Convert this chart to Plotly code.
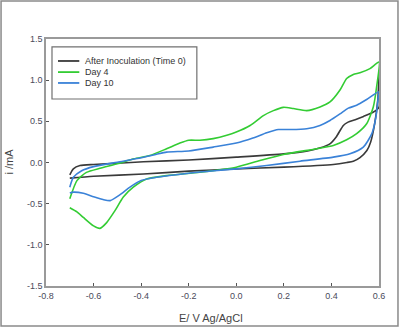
import plotly.graph_objects as go

# ---- data (E in V vs Ag/AgCl, i in mA) ----
black_E = [-0.70, -0.685, -0.657, -0.60, -0.50, -0.39, -0.20, 0.00, 0.20, 0.30, 0.35, 0.395, 0.42, 0.45, 0.47, 0.50, 0.535, 0.575, 0.60,
           0.60, 0.595, 0.582, 0.565, 0.549, 0.52, 0.492, 0.465, 0.408, 0.20, 0.00, -0.20, -0.39, -0.60, -0.70]
black_I = [-0.15, -0.077, -0.037, -0.024, -0.010, 0.010, 0.030, 0.065, 0.105, 0.14, 0.175, 0.23, 0.31, 0.45, 0.49, 0.52, 0.56, 0.61, 0.67,
           1.05, 0.76, 0.476, 0.25, 0.146, 0.06, 0.016, 0.0, -0.024, -0.056, -0.077, -0.105, -0.14, -0.167, -0.19]

green_E = [-0.70, -0.67, -0.63, -0.573, -0.50, -0.43, -0.363, -0.293, -0.237, -0.20, -0.153, -0.097, -0.04, 0.00, 0.058, 0.114, 0.156, 0.198,
           0.24, 0.296, 0.352, 0.394, 0.436, 0.464, 0.492, 0.52, 0.562, 0.60,
           0.59, 0.576, 0.548, 0.506, 0.464, 0.408, 0.338, 0.198, 0.10, 0.00, -0.153, -0.293, -0.377, -0.433, -0.475, -0.51, -0.545,
           -0.573, -0.60, -0.643, -0.67, -0.70]
green_I = [-0.44, -0.22, -0.12, -0.07, -0.016, 0.045, 0.085, 0.167, 0.236, 0.27, 0.27, 0.29, 0.33, 0.37, 0.45, 0.57, 0.63, 0.67,
           0.655, 0.63, 0.675, 0.735, 0.88, 1.02, 1.07, 1.09, 1.14, 1.22,
           0.92, 0.675, 0.47, 0.35, 0.276, 0.207, 0.167, 0.098, 0.024, -0.057, -0.118, -0.159, -0.20, -0.30, -0.42, -0.585, -0.73,
           -0.80, -0.77, -0.667, -0.60, -0.55]

blue_E = [-0.70, -0.685, -0.65, -0.60, -0.50, -0.40, -0.335, -0.293, -0.20, -0.097, 0.00, 0.07, 0.128, 0.177, 0.226, 0.296, 0.352, 0.394,
          0.436, 0.471, 0.506, 0.548, 0.60,
          0.597, 0.587, 0.57, 0.534, 0.478, 0.408, 0.268, 0.128, 0.00, -0.20, -0.335, -0.40, -0.447, -0.49, -0.53, -0.56, -0.60,
          -0.643, -0.685, -0.70]
blue_I = [-0.30, -0.18, -0.10, -0.05, 0.004, 0.057, 0.10, 0.126, 0.14, 0.187, 0.236, 0.297, 0.36, 0.40, 0.40, 0.41, 0.45, 0.51,
          0.59, 0.66, 0.695, 0.765, 0.86,
          0.80, 0.55, 0.35, 0.187, 0.106, 0.065, 0.016, -0.037, -0.077, -0.13, -0.18, -0.22, -0.30, -0.394, -0.463, -0.45, -0.415,
          -0.374, -0.36, -0.37]

series_names = ["After Inoculation (Time 0)", "Day 4", "Day 10"]
series_colors = ["#3a3a3a", "#33cc33", "#3a82d8"]

x_ticks = [-0.8, -0.6, -0.4, -0.2, 0.0, 0.2, 0.4, 0.6]
x_ticktext = ["-0.8", "-0.6", "-0.4", "-0.2", "0.0", "0.2", "0.4", "0.6"]
y_ticks = [-1.5, -1.0, -0.5, 0.0, 0.5, 1.0, 1.5]
y_ticktext = ["-1.5", "-1.0", "-0.5", "0.0", "0.5", "1.0", "1.5"]

FONT = "Liberation Sans, Arial, sans-serif"

fig = go.Figure()
for E, I, name, col in zip([black_E, green_E, blue_E], [black_I, green_I, blue_I], series_names, series_colors):
    fig.add_trace(go.Scatter(x=E, y=I, mode="lines", name=name, showlegend=False,
                             line=dict(color=col, width=1.6, shape="spline", smoothing=0.6)))

axis_common = dict(showgrid=False, zeroline=False, showline=True, linecolor="#9a9a9a", linewidth=1.5,
                   mirror=True, ticks="inside", ticklen=3, tickwidth=1, tickcolor="#555",
                   tickfont=dict(family=FONT, size=9, color="#4a4a5a"))
fig.update_xaxes(range=[-0.8, 0.6], tickvals=x_ticks, ticktext=x_ticktext, **axis_common)
fig.update_yaxes(range=[-1.5, 1.5], tickvals=y_ticks, ticktext=y_ticktext, **axis_common)

# custom legend
shapes = [dict(type="rect", xref="paper", yref="paper", x0=0.018, x1=0.453, y0=0.757, y1=0.968,
               line=dict(color="#707070", width=1.2), fillcolor="white", layer="below"),
          dict(type="rect", xref="paper", yref="paper", x0=-0.135, x1=1.057, y0=-0.162, y1=1.154,
               line=dict(color="#8a8a8a", width=1.5), fillcolor="rgba(0,0,0,0)")]
annotations = []
rows_y = [0.911, 0.866, 0.822]
for name, col, yy in zip(series_names, series_colors, rows_y):
    shapes.append(dict(type="line", xref="paper", yref="paper", x0=0.036, x1=0.10, y0=yy, y1=yy,
                       line=dict(color=col, width=1.8)))
    annotations.append(dict(text=name, xref="paper", yref="paper", x=0.112, y=yy, xanchor="left",
                            yanchor="middle", showarrow=False, font=dict(family=FONT, size=9, color="#333")))

annotations.append(dict(text="E/ V Ag/AgCl", xref="paper", yref="paper", x=0.4955, y=-0.1296,
                        xanchor="center", yanchor="middle", showarrow=False,
                        font=dict(family=FONT, size=11, color="#444")))
annotations.append(dict(text="i /mA", xref="paper", yref="paper", x=-0.1096, y=0.502, textangle=-90,
                        xanchor="center", yanchor="middle", showarrow=False,
                        font=dict(family=FONT, size=11, color="#444")))

fig.update_layout(width=400, height=328, margin=dict(l=46, r=21, t=39, b=42),
                  paper_bgcolor="white", plot_bgcolor="white",
                  shapes=shapes, annotations=annotations, showlegend=False)

fig.write_html("out.html")
